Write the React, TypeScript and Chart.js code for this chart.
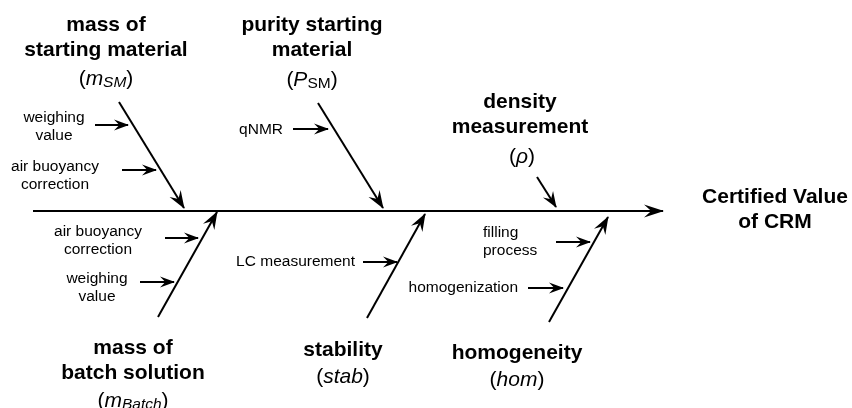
import React, { useEffect, useRef } from "react";
import { Chart, registerables } from "chart.js";
Chart.register(...registerables);

const CANVAS_W = 852;
const CANVAS_H = 408;
const FONT = '"Liberation Sans", Arial, sans-serif';

// Main spine (effect line)
const spineX = [33, 663];
const spineY = [211, 211];

// Main bones: start point -> arrow tip on the spine
const boneFromX = [119, 318, 537, 158, 367, 549];
const boneFromY = [102, 103, 177, 317, 318, 322];
const boneToX = [184, 383, 556, 217, 425, 608];
const boneToY = [208, 208, 207, 212, 214, 217];

// Sub-cause arrows (horizontal)
const causeFromX = [95, 122, 293, 165, 140, 363, 556, 528];
const causeToX = [128, 156, 328, 198, 174, 397, 590, 563];
const causeY = [125, 170, 129, 238, 282, 262, 242, 288];
const causeLabels = [
  ["weighing", "value"],
  ["air buoyancy", "correction"],
  ["qNMR"],
  ["air buoyancy", "correction"],
  ["weighing", "value"],
  ["LC measurement"],
  ["filling", "process"],
  ["homogenization"],
];
const causeLabelX = [54, 55, 283, 98, 97, 355, 483, 518];
const causeLabelY = [118, 167, 130, 232, 279, 262, 233, 288];
const causeLabelAlign = ["center", "center", "right", "center", "center", "right", "left", "right"];

// Bone titles
const titleLines = [
  ["mass of", "starting material"],
  ["purity starting", "material"],
  ["density", "measurement"],
  ["mass of", "batch solution"],
  ["stability"],
  ["homogeneity"],
  ["Certified Value", "of CRM"],
];
const titleX = [106, 312, 520, 133, 343, 517, 775];
const titleY = [25, 25, 102, 348, 350, 353, 197];

// Symbol lines: segments [text, style] where style: "" normal, "i" italic, "s" subscript, "is" italic subscript
const symbolParts = [
  [["(", ""], ["m", "i"], ["SM", "is"], [")", ""]],
  [["(", ""], ["P", "i"], ["SM", "s"], [")", ""]],
  [["(", ""], ["ρ", "i"], [")", ""]],
  [["(", ""], ["m", "i"], ["Batch", "is"], [")", ""]],
  [["(", ""], ["stab", "i"], [")", ""]],
  [["(", ""], ["hom", "i"], [")", ""]],
];
const symbolX = [106, 312, 522, 133, 343, 517];
const symbolY = [79, 80, 157, 401, 377, 380];

const fishbonePlugin = {
  id: "fishbone",
  afterDatasetsDraw(chart: any) {
    const ctx = chart.ctx;
    const xs = chart.scales.x;
    const ys = chart.scales.y;
    const px = (v: number) => xs.getPixelForValue(v);
    const py = (v: number) => ys.getPixelForValue(v);

    // arrowheads
    chart.data.datasets.forEach((ds: any, i: number) => {
      const pts = chart.getDatasetMeta(i).data;
      if (!pts || pts.length < 2) return;
      const a = pts[pts.length - 2];
      const b = pts[pts.length - 1];
      const [L, Wd] = ds.head;
      const ang = Math.atan2(b.y - a.y, b.x - a.x);
      ctx.save();
      ctx.translate(b.x, b.y);
      ctx.rotate(ang);
      ctx.beginPath();
      ctx.moveTo(1, 0);
      ctx.lineTo(-L, -Wd);
      ctx.lineTo(-L * 0.62, 0);
      ctx.lineTo(-L, Wd);
      ctx.closePath();
      ctx.fillStyle = "#000";
      ctx.fill();
      ctx.restore();
    });

    ctx.save();
    ctx.fillStyle = "#000";
    ctx.textBaseline = "middle";

    // cause labels
    ctx.font = `15.5px ${FONT}`;
    causeLabels.forEach((lines, i) => {
      ctx.textAlign = causeLabelAlign[i];
      lines.forEach((t, j) => {
        ctx.fillText(t, px(causeLabelX[i]), py(causeLabelY[i] + j * 18));
      });
    });

    // titles
    ctx.font = `bold 21px ${FONT}`;
    ctx.textAlign = "center";
    titleLines.forEach((lines, i) => {
      lines.forEach((t, j) => {
        ctx.fillText(t, px(titleX[i]), py(titleY[i] + j * 25));
      });
    });

    // symbols
    ctx.textAlign = "left";
    const fontFor = (st: string) => {
      const italic = st.includes("i") ? "italic " : "";
      const size = st.includes("s") ? 15.5 : 21;
      return `${italic}${size}px ${FONT}`;
    };
    symbolParts.forEach((parts, i) => {
      let total = 0;
      parts.forEach(([t, st]) => {
        ctx.font = fontFor(st);
        total += ctx.measureText(t).width;
      });
      let x = px(symbolX[i]) - total / 2;
      const y = py(symbolY[i]);
      parts.forEach(([t, st]) => {
        ctx.font = fontFor(st);
        ctx.fillText(t, x, st.includes("s") ? y + 4 : y);
        x += ctx.measureText(t).width;
      });
    });
    ctx.restore();
  },
};

export default function App() {
  const ref = useRef<HTMLCanvasElement | null>(null);
  useEffect(() => {
    if (!ref.current) return;
    const line = (xsv: number[], ysv: number[], head: number[]) => ({
      data: xsv.map((x, k) => ({ x, y: ysv[k] })),
      showLine: true,
      borderColor: "#000",
      borderWidth: 2,
      pointRadius: 0,
      pointHoverRadius: 0,
      fill: false,
      head,
    });
    const datasets: any[] = [];
    datasets.push(line(spineX, spineY, [19, 6.5]));
    boneFromX.forEach((_, i) => {
      datasets.push(
        line([boneFromX[i], boneToX[i]], [boneFromY[i], boneToY[i]], i === 2 ? [15, 6] : [17, 6.5])
      );
    });
    causeFromX.forEach((_, i) => {
      datasets.push(line([causeFromX[i], causeToX[i]], [causeY[i], causeY[i]], [14, 5.5]));
    });
    const chart = new Chart(ref.current, {
      type: "scatter",
      data: { datasets },
      options: {
        responsive: false,
        animation: false,
        events: [],
        layout: { padding: 0 },
        plugins: { legend: { display: false }, tooltip: { enabled: false } },
        scales: {
          x: { type: "linear", min: 0, max: CANVAS_W, display: false },
          y: { type: "linear", min: 0, max: CANVAS_H, reverse: true, display: false },
        },
      },
      plugins: [fishbonePlugin],
    } as any);
    return () => chart.destroy();
  }, []);
  return (
    <div style={{ position: "absolute", left: 0, top: 0, width: CANVAS_W, height: CANVAS_H, background: "#fff" }}>
      <canvas ref={ref} width={CANVAS_W} height={CANVAS_H} />
    </div>
  );
}
